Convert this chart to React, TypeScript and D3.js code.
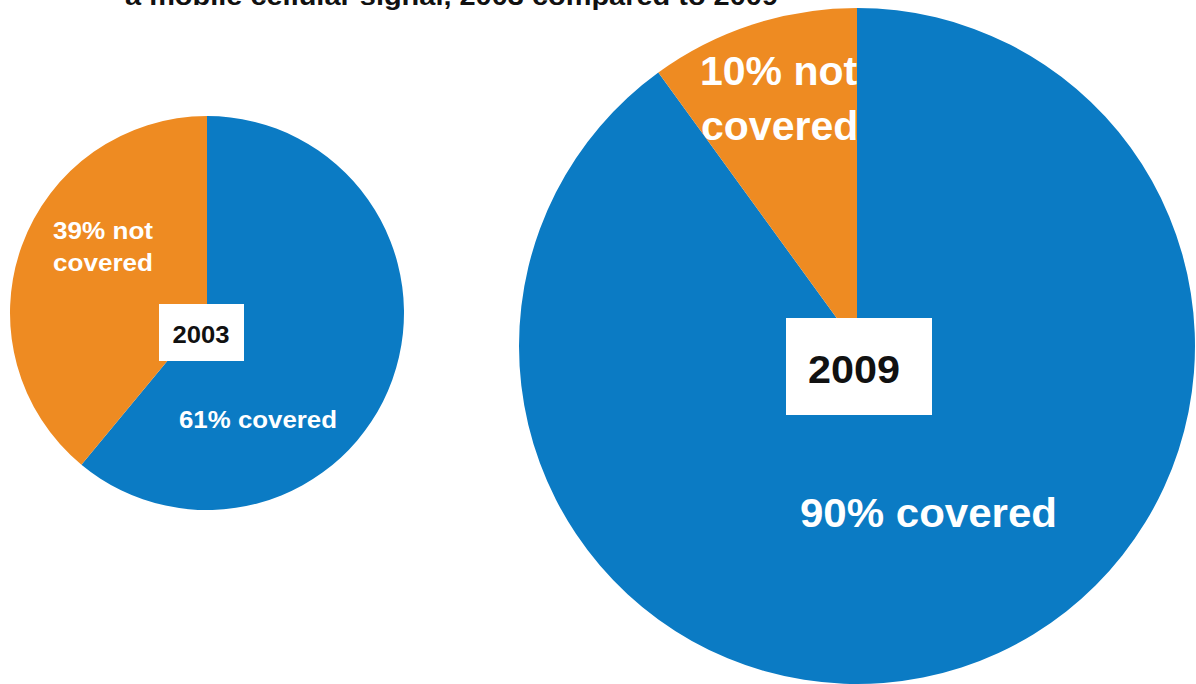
import React from "react";
import * as d3 from "d3";

const years = ["2003", "2009"];
const covered = [61, 90];
const notCovered = [39, 10];
const titleText = "a mobile cellular signal, 2003 compared to 2009";

const BLUE = "#0b7bc4";
const ORANGE = "#ee8b22";

const W = 1196;
const H = 684;

type PieSpec = {
  cx: number;
  cy: number;
  r: number;
  labelFont: number;
  yearFont: number;
};

const specs: PieSpec[] = [
  { cx: 207, cy: 313, r: 197, labelFont: 24, yearFont: 24 },
  { cx: 857, cy: 346, r: 338, labelFont: 41, yearFont: 39 },
];

export default function App() {
  const pie = d3
    .pie<{ key: string; value: number }>()
    .sort(null)
    .value((d) => d.value);

  return (
    <svg
      width={W}
      height={H}
      style={{ position: "absolute", left: 0, top: 0, background: "#fff" }}
      fontFamily="'Liberation Sans', Arial, sans-serif"
    >
      <text x={125} y={5} fontSize={25} fontWeight="bold" fill="#111" textLength={653} lengthAdjust="spacingAndGlyphs">
        {titleText}
      </text>
      {years.map((yr, i) => {
        const s = specs[i];
        const data = [
          { key: "covered", value: covered[i] },
          { key: "not", value: notCovered[i] },
        ];
        const arcs = pie(data);
        const arc = d3.arc<d3.PieArcDatum<{ key: string; value: number }>>().innerRadius(0).outerRadius(s.r);
        const clipId = `clip-not-${i}`;
        return (
          <g key={yr} transform={`translate(${s.cx},${s.cy})`}>
            <defs>
              <clipPath id={clipId}>
                <path d={arc(arcs[1]) || ""} />
              </clipPath>
            </defs>
            {arcs.map((a) => (
              <path key={a.data.key} d={arc(a) || ""} fill={a.data.key === "covered" ? BLUE : ORANGE} />
            ))}
            {i === 0 ? (
              <>
                <g clipPath={`url(#${clipId})`}>
                  <text x={53 - s.cx} y={239 - s.cy} fontSize={s.labelFont} fontWeight="bold" fill="#fff" textLength={100} lengthAdjust="spacingAndGlyphs">
                    {`${notCovered[i]}% not`}
                  </text>
                  <text x={53 - s.cx} y={271 - s.cy} fontSize={s.labelFont} fontWeight="bold" fill="#fff" textLength={100} lengthAdjust="spacingAndGlyphs">
                    covered
                  </text>
                </g>
                <text x={179 - s.cx} y={428 - s.cy} fontSize={s.labelFont} fontWeight="bold" fill="#fff" textLength={158} lengthAdjust="spacingAndGlyphs">
                  {`${covered[i]}% covered`}
                </text>
                <rect x={159 - s.cx} y={304 - s.cy} width={85} height={57} fill="#fff" />
                <text x={201 - s.cx} y={343 - s.cy} fontSize={s.yearFont} fontWeight="bold" fill="#111" textAnchor="middle" textLength={57} lengthAdjust="spacingAndGlyphs">
                  {yr}
                </text>
              </>
            ) : (
              <>
                <g clipPath={`url(#${clipId})`}>
                  <text x={700 - s.cx} y={85 - s.cy} fontSize={s.labelFont} fontWeight="bold" fill="#fff">
                    {`${notCovered[i]}% not`}
                  </text>
                  <text x={701 - s.cx} y={140 - s.cy} fontSize={s.labelFont} fontWeight="bold" fill="#fff">
                    covered
                  </text>
                </g>
                <text x={800 - s.cx} y={527 - s.cy} fontSize={s.labelFont} fontWeight="bold" fill="#fff" textLength={257} lengthAdjust="spacingAndGlyphs">
                  {`${covered[i]}% covered`}
                </text>
                <rect x={786 - s.cx} y={318 - s.cy} width={146} height={97} fill="#fff" />
                <text x={854 - s.cx} y={383 - s.cy} fontSize={s.yearFont} fontWeight="bold" fill="#111" textAnchor="middle" textLength={92} lengthAdjust="spacingAndGlyphs">
                  {yr}
                </text>
              </>
            )}
          </g>
        );
      })}
    </svg>
  );
}
